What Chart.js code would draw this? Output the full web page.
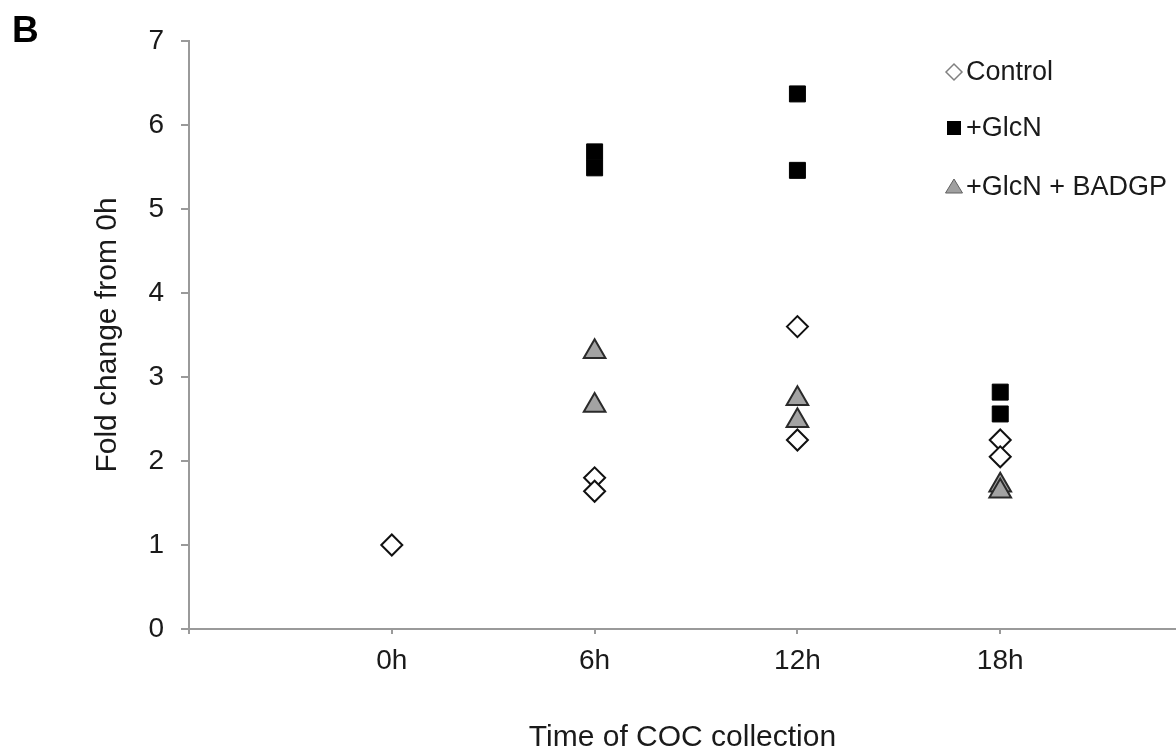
<!DOCTYPE html>
<html>
<head>
<meta charset="utf-8">
<script src="https://cdn.jsdelivr.net/npm/chart.js@4/dist/chart.umd.min.js"></script>
<style>
  html, body { margin: 0; padding: 0; background: #fff; }
  #wrap { width: 1176px; height: 754px; position: relative; }
</style>
</head>
<body>
<div id="wrap"><canvas id="chart" width="1176" height="754"></canvas></div>
<script>
// tick labels / categories
const timeHours = [0, 6, 12, 18];
const timeLabels = ['0h', '6h', '12h', '18h'];
const yTicks = [0, 1, 2, 3, 4, 5, 6, 7];

// series (x = hours of COC collection, y = fold change from 0h)
const controlX = [0, 6, 6, 12, 12, 18, 18];
const controlY = [1.0, 1.80, 1.64, 3.60, 2.25, 2.25, 2.05];
const glcnX = [6, 6, 12, 12, 18, 18];
const glcnY = [5.68, 5.49, 6.37, 5.46, 2.82, 2.56];
const badgpX = [6, 6, 12, 12, 18, 18];
const badgpY = [3.30, 2.66, 2.74, 2.48, 1.71, 1.64];

const seriesNames = ['Control', '+GlcN', '+GlcN + BADGP'];

const FONT = "'Liberation Sans', Arial, Helvetica, sans-serif";
const TEXT = '#1a1a1a';
const AXIS = '#9a9a9a';

function toPoints(xs, ys) {
    return xs.map((x, i) => ({ x: x, y: ys[i] }));
}

// let the plot run right up to the canvas edge, as in the original figure
const fullWidthPlugin = {
    id: 'fullWidth',
    afterLayout(chart) {
        const x = chart.scales.x;
        const edge = chart.width;
        chart.chartArea.right = edge;
        chart.chartArea.width = edge - chart.chartArea.left;
        x.right = edge;
        x.width = edge - x.left;
        x.configure();
    }
};

// small legend markers drawn by hand, top right inside the plot
const legendPlugin = {
    id: 'sideLegend',
    afterDraw(chart) {
        const ctx = chart.ctx;
        const rows = [
            { y: 72, mark: 'diamond' },
            { y: 128, mark: 'square' },
            { y: 187, mark: 'triangle' }
        ];
        const mx = 954;
        ctx.save();
        rows.forEach((r, i) => {
            ctx.beginPath();
            if (r.mark === 'diamond') {
                ctx.moveTo(mx - 8, r.y); ctx.lineTo(mx, r.y - 8);
                ctx.lineTo(mx + 8, r.y); ctx.lineTo(mx, r.y + 8);
                ctx.closePath();
                ctx.fillStyle = '#fff'; ctx.fill();
                ctx.lineWidth = 1.5; ctx.strokeStyle = '#808080'; ctx.stroke();
            } else if (r.mark === 'square') {
                ctx.rect(mx - 7, r.y - 7, 14, 14);
                ctx.fillStyle = '#000'; ctx.fill();
            } else {
                ctx.moveTo(mx, r.y - 8); ctx.lineTo(mx + 8.5, r.y + 6);
                ctx.lineTo(mx - 8.5, r.y + 6); ctx.closePath();
                ctx.fillStyle = '#a0a0a0'; ctx.fill();
                ctx.lineWidth = 1; ctx.strokeStyle = '#606060'; ctx.stroke();
            }
            ctx.fillStyle = TEXT;
            ctx.font = '27px ' + FONT;
            ctx.textAlign = 'left';
            ctx.textBaseline = 'middle';
            ctx.fillText(seriesNames[i], 966, r.y + 1);
        });
        // panel letter
        ctx.font = 'bold 37px ' + FONT;
        ctx.textBaseline = 'alphabetic';
        ctx.fillStyle = '#000';
        ctx.fillText('B', 12, 42);
        ctx.restore();
    }
};

new Chart(document.getElementById('chart'), {
    type: 'scatter',
    data: {
        datasets: [
            {
                label: seriesNames[0], data: toPoints(controlX, controlY),
                pointStyle: 'rectRot', pointRadius: 10.5, pointHoverRadius: 10.5,
                backgroundColor: '#ffffff', borderColor: '#111111', borderWidth: 2
            },
            {
                label: seriesNames[1], data: toPoints(glcnX, glcnY),
                pointStyle: 'rect', pointRadius: 11.3, pointHoverRadius: 11.3,
                backgroundColor: '#000000', borderColor: '#000000', borderWidth: 1
            },
            {
                label: seriesNames[2], data: toPoints(badgpX, badgpY),
                pointStyle: 'triangle', pointRadius: 12.5, pointHoverRadius: 12.5,
                backgroundColor: '#a3a3a3', borderColor: '#2a2a2a', borderWidth: 2
            }
        ]
    },
    options: {
        responsive: false,
        animation: false,
        devicePixelRatio: 1,
        layout: { padding: { top: 41, left: 0, right: 0, bottom: 0 } },
        plugins: {
            legend: { display: false },
            tooltip: { enabled: false }
        },
        scales: {
            x: {
                type: 'linear',
                min: -6,
                max: 23.2,
                afterBuildTicks: function (scale) {
                    scale.ticks = [-6].concat(timeHours).map(v => ({ value: v }));
                },
                afterFit: function (scale) {
                    scale.height = 125;
                    scale.paddingLeft = 0;
                    scale.paddingRight = 0;
                },
                ticks: {
                    autoSkip: false,
                    maxRotation: 0,
                    padding: 10,
                    color: TEXT,
                    font: { family: FONT, size: 28 },
                    callback: function (v) {
                        const i = timeHours.indexOf(v);
                        return i >= 0 ? timeLabels[i] : '';
                    }
                },
                grid: { drawOnChartArea: false, drawTicks: true, tickLength: 5, color: AXIS, lineWidth: 2 },
                border: { display: true, color: AXIS, width: 2 },
                title: {
                    display: true,
                    text: 'Time of COC collection',
                    color: TEXT,
                    font: { family: FONT, size: 30, lineHeight: 1.1 },
                    padding: { top: 0, bottom: 0 }
                }
            },
            y: {
                min: 0,
                max: 7,
                afterBuildTicks: function (scale) {
                    scale.ticks = yTicks.map(v => ({ value: v }));
                },
                afterFit: function (scale) { scale.width = 189; },
                ticks: {
                    padding: 17,
                    color: TEXT,
                    font: { family: FONT, size: 28 }
                },
                grid: { drawOnChartArea: false, drawTicks: true, tickLength: 8, color: AXIS, lineWidth: 2 },
                border: { display: true, color: AXIS, width: 2 },
                title: {
                    display: true,
                    text: 'Fold change from 0h',
                    color: TEXT,
                    font: { family: FONT, size: 30 },
                    padding: { top: 90, bottom: 0 }
                }
            }
        }
    },
    plugins: [fullWidthPlugin, legendPlugin]
});
</script>
</body>
</html>
